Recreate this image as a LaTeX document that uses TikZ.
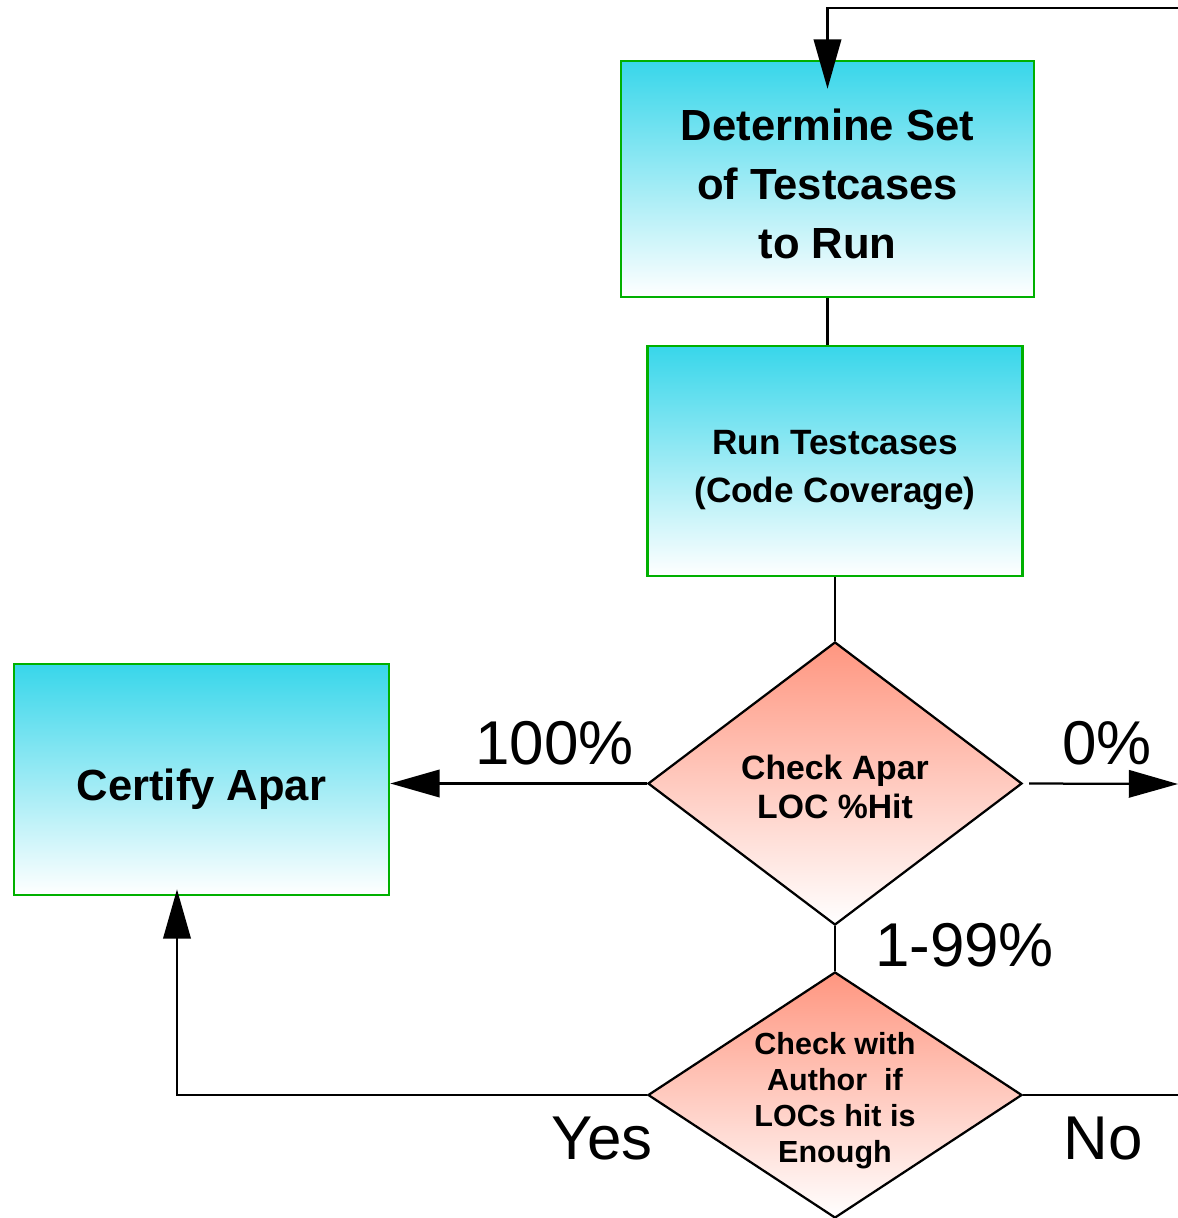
\documentclass[tikz,border=0pt]{standalone}
\usepackage{fontspec}
\setmainfont{Liberation Sans}
\usetikzlibrary{shapes.geometric,arrows.meta,calc}
\definecolor{boxcyan}{RGB}{56,214,234}
\definecolor{boxgreen}{RGB}{0,176,0}
\definecolor{decsalmon}{RGB}{255,150,128}

\begin{document}
\begin{tikzpicture}[x=0.025cm,y=-0.025cm,
    procbox/.style={rectangle,draw=boxgreen,line width=1.8pt,top color=boxcyan,bottom color=white,inner sep=0pt},
    decision/.style={diamond,draw=black,line width=1.6pt,top color=decsalmon,bottom color=white,inner sep=0pt,aspect=1.32,minimum width=9.35cm},
    inlabel/.style={align=center,inner sep=0pt,font=\bfseries},
    flow/.style={line width=1.6pt,black},
    flowarrow/.style={flow,-{Triangle[length=35pt,width=19.5pt]}},
    branch/.style={anchor=base,inner sep=0pt,font=\fontsize{44}{50}\selectfont}]
                \useasboundingbox (0,0) rectangle (1178,1218);
                % Process boxes
                \node[procbox,minimum width=10.325cm,minimum height=5.9cm,label={[inlabel,yshift=-0.13cm,font=\fontsize{31}{42}\selectfont\bfseries]center:{Determine Set\\of Testcases\\to Run}}] (det) at (827.5,179) {};
                \node[procbox,minimum width=9.375cm,minimum height=5.75cm,label={[inlabel,yshift=-0.22cm,font=\fontsize{25}{34}\selectfont\bfseries]center:{Run Testcases\\(Code Coverage)}}] (run) at (835,461) {};
                \node[procbox,minimum width=9.375cm,minimum height=5.775cm,label={[inlabel,yshift=-0.25cm,font=\fontsize{31}{42}\selectfont\bfseries]center:{Certify Apar}}] (cert) at (201.5,779.5) {};
                % Decisions
                \node[decision,minimum height=7.075cm,label={[inlabel,yshift=-0.08cm,font=\fontsize{24}{28}\selectfont\bfseries]center:{Check Apar\\LOC \%Hit}}] (hit) at (835,783.5) {};
                \node[decision,minimum height=6.15cm,label={[inlabel,yshift=-0.13cm,font=\fontsize{21.7}{25.6}\selectfont\bfseries]center:{Check with\\Author\ \ if\\LOCs hit is\\Enough}}] (auth) at (835,1095) {};
                % Free ends
                \coordinate (loopin) at (1178,8);
                \coordinate (outzero) at (1178,784);
                \coordinate (outno) at (1178,1095);
                % Connectors
                \draw[flowarrow] (loopin) -| ($(det.north)+(0,29)$);
                \draw[flow] (det.south) -- (det.south |- run.north);
                \draw[flow] (run.south) -- (hit.north);
                \draw[flowarrow] (hit.west) -- (hit.west -| cert.east);
                \draw[flowarrow] ($(hit.east)+(6,0)$) -- (outzero);
                \draw[flow] (hit.south) -- (auth.north);
                \draw[flowarrow] (auth.west) -| ($(cert.south)+(-24.5,-7)$);
                \draw[flow] (auth.east) -- (outno);
                % Branch labels
                \node[branch] (lfull) at (554.5,764) {100\%};
                \node[branch] (lzero) at (1107,764) {0\%};
                \node[branch] (lpart) at (964.5,966) {1-99\%};
                \node[branch] (lyes) at (602,1159) {Yes};
                \node[branch] (lno) at (1103,1159) {No};
\end{tikzpicture}
\end{document}
